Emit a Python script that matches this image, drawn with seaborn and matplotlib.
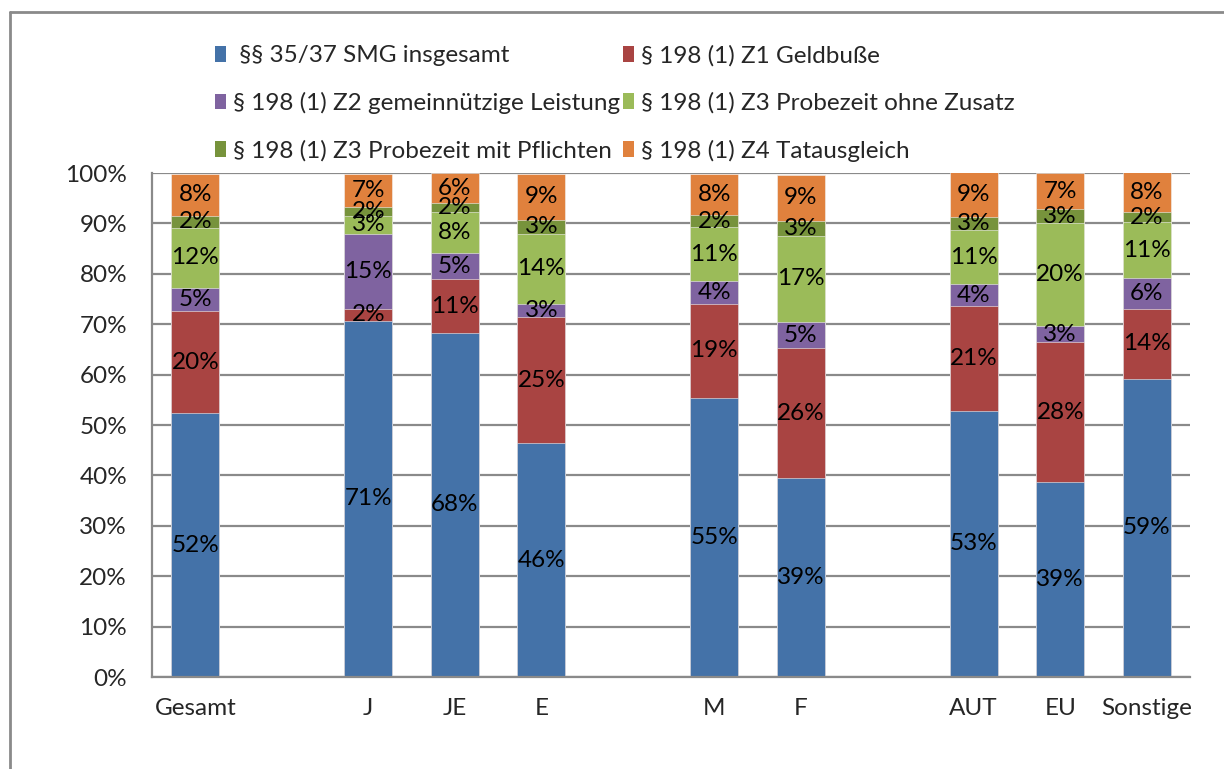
import numpy as np
import pandas as pd
import matplotlib
matplotlib.use("Agg")
import matplotlib.pyplot as plt
from matplotlib.lines import Line2D
from matplotlib.patches import Patch
import seaborn as sns

# slots on the x axis (blank ones are gaps in the original chart)
slots = ["Gesamt", "", "J", "JE", "E", " ", "M", "F", "  ", "AUT", "EU", "Sonstige"]
groups = ["Gesamt", "J", "JE", "E", "M", "F", "AUT", "EU", "Sonstige"]

series = [
    "§§ 35/37 SMG insgesamt",
    "§ 198 (1) Z1 Geldbuße",
    "§ 198 (1) Z2 gemeinnützige Leistung",
    "§ 198 (1) Z3 Probezeit ohne Zusatz",
    "§ 198 (1) Z3 Probezeit mit Pflichten",
    "§ 198 (1) Z4 Tatausgleich",
]
colors = ["#4472A8", "#A94442", "#7F63A0", "#9BBB59", "#77933C", "#E0813D"]

# shares in percent, per group
smg = [52.3, 70.7, 68.3, 46.4, 55.3, 39.4, 52.8, 38.6, 59.2]
z1 = [20.3, 2.3, 10.6, 25.0, 18.8, 25.8, 20.8, 27.8, 13.9]
z2 = [4.6, 15.0, 5.3, 2.7, 4.4, 5.3, 4.3, 3.2, 6.0]
z3_ohne = [11.9, 3.4, 8.0, 13.9, 10.7, 17.0, 10.8, 20.4, 11.1]
z3_mit = [2.4, 1.8, 1.8, 2.6, 2.4, 3.0, 2.6, 2.8, 2.0]
z4 = [8.4, 6.7, 6.0, 9.3, 8.3, 9.2, 8.9, 7.2, 8.0]

values = [smg, z1, z2, z3_ohne, z3_mit, z4]

df = pd.DataFrame({"group": groups})
for name, vals in zip(series, values):
    df[name] = vals
cum = df[series].cumsum(axis=1)
bottoms = cum - df[series]

sns.set_style("white")
plt.rcParams["font.family"] = ["Lato", "DejaVu Sans"]

fig = plt.figure(figsize=(12.24, 7.69), dpi=100)
ax = fig.add_axes([0.1242, 0.1196, 0.848, 0.6554])

# stacked bars: draw cumulative totals from top to bottom
for i in range(len(series) - 1, -1, -1):
    sns.barplot(x=df["group"], y=cum[series[i]], order=slots, color=colors[i],
                width=0.55, ax=ax, saturation=1, edgecolor="#f2f2f2", linewidth=0.4)

# percentage labels
for i, name in enumerate(series):
    for j, g in enumerate(groups):
        v = df.loc[j, name]
        ax.text(slots.index(g), bottoms.loc[j, name] + v / 2, f"{v:.0f}%",
                ha="center", va="center", fontsize=17.5, color="black")

ax.set_ylim(0, 100)
ax.set_xlim(-0.5, len(slots) - 0.5)
ax.set_yticks(np.arange(0, 101, 10))
ax.set_yticklabels([f"{t}%" for t in range(0, 101, 10)], fontsize=17.5)
ax.yaxis.grid(True, color="#8a8a8a", linewidth=1.6)
ax.set_axisbelow(True)

ax.set_xticks(range(len(slots)))
ax.set_xticklabels(slots, fontsize=17.5)
ax.set_xticks(np.arange(-0.5, len(slots), 1), minor=True)
ax.tick_params(axis="x", which="major", length=0, pad=15)
ax.tick_params(axis="x", which="minor", length=7, width=1.6, color="#8a8a8a", direction="out")
ax.tick_params(axis="y", length=6, width=1.6, color="#8a8a8a", direction="out", pad=12)
ax.set_xlabel("")
ax.set_ylabel("")

for s in ["top", "right"]:
    ax.spines[s].set_visible(False)
for s in ["left", "bottom"]:
    ax.spines[s].set_color("#8a8a8a")
    ax.spines[s].set_linewidth(1.6)

# legend: two columns, three rows
handles = [Patch(facecolor=c, edgecolor="none") for c in colors]
order = [0, 2, 4, 1, 3, 5]
labels = [(" " + series[0]) if k == 0 else series[k] for k in order]
fig.legend([handles[k] for k in order], labels, ncol=2, frameon=False,
           loc="upper left", bbox_to_anchor=(0.158, 0.97), fontsize=17.5,
           handlelength=0.45, handleheight=0.6, handletextpad=0.3,
           labelspacing=1.06, columnspacing=0.1)

# outer chart frame (top and left edges visible)
fig.add_artist(Line2D([0.0082, 1.0], [0.9845, 0.9845], color="#8a8a8a", linewidth=2))
fig.add_artist(Line2D([0.0082, 0.0082], [0.0, 0.9845], color="#8a8a8a", linewidth=2))

plt.savefig("out.png", dpi=100)
